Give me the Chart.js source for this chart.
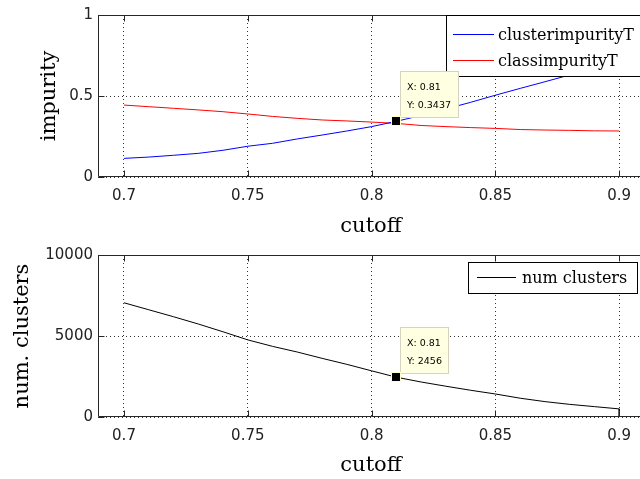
<!DOCTYPE html>
<html>
<head>
<meta charset="utf-8">
<script src="https://cdn.jsdelivr.net/npm/chart.js@4.4.1/dist/chart.umd.min.js"></script>
<style>
  html, body { margin: 0; padding: 0; overflow: hidden; background: #fff; width: 640px; height: 479px; }
  canvas { position: absolute; left: 0; }
  #impurityChart { top: 0; }
  #clusterChart { top: 240px; }
</style>
</head>
<body>
<canvas id="impurityChart" width="644" height="240"></canvas>
<canvas id="clusterChart" width="644" height="239"></canvas>
<script>
// cutoff values swept
const cutoffs = [0.70, 0.71, 0.72, 0.73, 0.74, 0.75, 0.76, 0.77, 0.78, 0.79, 0.80,
                 0.81, 0.82, 0.83, 0.84, 0.85, 0.86, 0.87, 0.88, 0.89, 0.90];
const clusterImpurity = [0.115, 0.123, 0.134, 0.146, 0.165, 0.190, 0.208, 0.235, 0.259, 0.284, 0.311,
                         0.3437, 0.380, 0.420, 0.461, 0.505, 0.547, 0.588, 0.630, 0.670, 0.710];
const classImpurity = [0.444, 0.434, 0.424, 0.414, 0.403, 0.389, 0.374, 0.362, 0.352, 0.346, 0.339,
                       0.331, 0.318, 0.311, 0.305, 0.300, 0.293, 0.290, 0.288, 0.285, 0.284];
// the cluster count curve closes with a drop to zero at the last cutoff
const clusterCutoffs = [0.70, 0.71, 0.72, 0.73, 0.74, 0.75, 0.76, 0.77, 0.78, 0.79, 0.80,
                        0.81, 0.82, 0.83, 0.84, 0.85, 0.86, 0.87, 0.88, 0.89, 0.90, 0.90];
const numClusters = [7050, 6620, 6190, 5740, 5260, 4760, 4360, 4010, 3620, 3250, 2850,
                     2456, 2160, 1900, 1650, 1420, 1160, 950, 780, 640, 500, 0];

const cutoffTicks = [0.7, 0.75, 0.8, 0.85, 0.9];
const impurityTicks = [0, 0.5, 1];
const clusterTicks = [0, 5000, 10000];

const tipIndex = 11; // cutoff 0.81

const toPoints = (xs, ys) => xs.map((x, i) => ({ x: x, y: ys[i] }));

// axes box, inward ticks, boxed legend and data tip
const axesDecor = {
  id: 'axesDecor',
  afterDatasetsDraw(chart, args, opts) {
    const { ctx, chartArea: a, scales } = chart;
    const xs = scales.x, ys = scales.y;
    const L = Math.round(a.left) + 0.5, T = Math.round(a.top) + 0.5;
    const B = Math.round(a.bottom) - 0.5, R = Math.round(a.right) + 0.5;
    ctx.save();
    ctx.lineWidth = 1;
    ctx.strokeStyle = '#262626';
    ctx.beginPath();
    ctx.moveTo(R, T); ctx.lineTo(L, T); ctx.lineTo(L, B); ctx.lineTo(R, B);
    xs.ticks.forEach(t => {
      const p = Math.round(xs.getPixelForValue(t.value)) + 0.5;
      ctx.moveTo(p, B); ctx.lineTo(p, B - 6);
      ctx.moveTo(p, T); ctx.lineTo(p, T + 6);
    });
    ys.ticks.forEach(t => {
      const p = Math.round(ys.getPixelForValue(t.value)) + 0.5;
      ctx.moveTo(L, p); ctx.lineTo(L + 6, p);
    });
    ctx.stroke();

    // legend
    const lg = opts.legend;
    ctx.fillStyle = '#fff';
    ctx.fillRect(lg.left, lg.top, lg.width, lg.height);
    ctx.strokeStyle = '#000';
    ctx.strokeRect(lg.left + 0.5, lg.top + 0.5, lg.width, lg.height);
    ctx.font = '16px "DejaVu Serif"';
    ctx.textAlign = 'left';
    ctx.textBaseline = 'alphabetic';
    chart.data.datasets.forEach((ds, i) => {
      const ry = lg.top + lg.firstRow + i * lg.rowGap;
      ctx.strokeStyle = ds.borderColor;
      ctx.beginPath();
      ctx.moveTo(lg.left + lg.lineStart, Math.round(ry) + 0.5);
      ctx.lineTo(lg.left + lg.lineEnd, Math.round(ry) + 0.5);
      ctx.stroke();
      ctx.fillStyle = '#000';
      ctx.fillText(ds.label, lg.left + lg.textStart, ry + lg.baseline);
    });

    // data tip
    const tip = opts.tip;
    const el = chart.getDatasetMeta(tip.dataset).data[tip.index];
    const px = Math.round(el.x), py = Math.round(el.y);
    ctx.font = '9.5px "DejaVu Sans"';
    const w = Math.ceil(Math.max(...tip.lines.map(s => ctx.measureText(s).width))) + 13;
    const h = 46;
    const bx = px + 4, by = py - 4 - h;
    ctx.fillStyle = '#ffffe1';
    ctx.fillRect(bx, by, w, h);
    ctx.strokeStyle = '#d6d3c0';
    ctx.strokeRect(bx + 0.5, by + 0.5, w, h);
    ctx.fillStyle = '#000';
    ctx.textBaseline = 'middle';
    ctx.fillText(tip.lines[0], bx + 7, by + 17);
    ctx.fillText(tip.lines[1], bx + 7, by + 35);
    ctx.fillStyle = '#ffffc8';
    ctx.fillRect(px - 5, py - 5, 10, 10);
    ctx.fillStyle = '#000';
    ctx.fillRect(px - 4, py - 4, 8, 8);
    ctx.restore();
  }
};

const tickFont = { family: 'DejaVu Sans', size: 15 };
const titleFont = { family: 'DejaVu Serif', size: 21 };
const gridStyle = { color: '#333', lineWidth: 1, drawTicks: false };

function makeChart(id, datasets, yTicks, yMax, yTitle, yTitlePad, xHeight, legend, tip) {
  return new Chart(document.getElementById(id), {
    type: 'line',
    data: { datasets: datasets },
    options: {
      responsive: false,
      animation: false,
      devicePixelRatio: 1,
      layout: { padding: { top: 15, left: 0, right: 0, bottom: 0 } },
      elements: { point: { radius: 0 }, line: { borderWidth: 1, tension: 0 } },
      plugins: {
        legend: { display: false },
        tooltip: { enabled: false },
        axesDecor: { legend: legend, tip: tip }
      },
      scales: {
        x: {
          type: 'linear',
          min: 0.6895,
          max: 0.91,
          afterBuildTicks: s => { s.ticks = cutoffTicks.map(v => ({ value: v })); },
          afterFit: s => { s.height = xHeight; },
          grid: gridStyle,
          border: { display: false, dash: [1, 3] },
          ticks: { font: tickFont, color: '#222', padding: 10, maxRotation: 0,
                   callback: v => String(v) },
          title: { display: true, text: 'cutoff', font: titleFont, color: '#000',
                   padding: { top: 0, bottom: 1 } }
        },
        y: {
          min: 0,
          max: yMax,
          afterBuildTicks: s => { s.ticks = yTicks.map(v => ({ value: v })); },
          afterFit: s => { s.width = 98; },
          grid: gridStyle,
          border: { display: false, dash: [1, 3] },
          ticks: { font: tickFont, color: '#222', padding: 5, callback: v => String(v) },
          title: { display: true, text: yTitle, font: titleFont, color: '#000',
                   padding: { top: yTitlePad, bottom: 0 } }
        }
      }
    },
    plugins: [axesDecor]
  });
}

makeChart('impurityChart', [
  { label: 'clusterimpurityT', data: toPoints(cutoffs, clusterImpurity), borderColor: '#0000ff' },
  { label: 'classimpurityT', data: toPoints(cutoffs, classImpurity), borderColor: '#ff0000' }
], impurityTicks, 1, 'impurity', 37, 63,
  { left: 446, top: 15, width: 200, height: 61, firstRow: 19, rowGap: 26, lineStart: 7, lineEnd: 48, textStart: 52, baseline: 6 },
  { dataset: 0, index: tipIndex, lines: ['X: ' + cutoffs[tipIndex], 'Y: ' + clusterImpurity[tipIndex]] });

makeChart('clusterChart', [
  { label: 'num clusters', data: toPoints(clusterCutoffs, numClusters), borderColor: '#000000' }
], clusterTicks, 10000, 'num. clusters', 10, 62,
  { left: 468, top: 22, width: 169, height: 31, firstRow: 15, rowGap: 26, lineStart: 9, lineEnd: 48, textStart: 54, baseline: 6 },
  { dataset: 0, index: tipIndex, lines: ['X: ' + cutoffs[tipIndex], 'Y: ' + numClusters[tipIndex]] });
</script>
</body>
</html>
